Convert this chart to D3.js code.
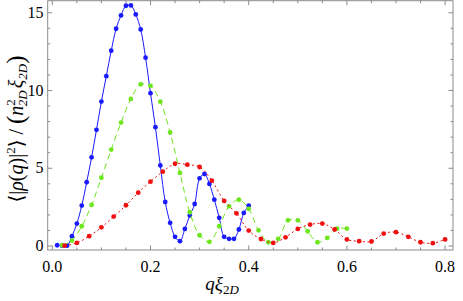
<!DOCTYPE html>
<html>
<head>
<meta charset="utf-8">
<script src="https://cdn.jsdelivr.net/npm/d3@7"></script>
<style>
  body { margin: 0; background: #fff; }
  text, tspan { font-family: 'Liberation Serif', 'Times New Roman', Times, 'DejaVu Serif', serif; }
</style>
</head>
<body>
<div id="chart"></div>
<script>
// data
const blueQ = [0.01, 0.02, 0.03, 0.04, 0.05, 0.06, 0.07, 0.08, 0.09, 0.10,
    0.11, 0.12, 0.13, 0.14, 0.15, 0.16, 0.17, 0.18, 0.19, 0.20,
    0.21, 0.22, 0.23, 0.24, 0.25, 0.26, 0.27, 0.28, 0.29, 0.30,
    0.31, 0.32, 0.33, 0.34, 0.35, 0.36, 0.37, 0.38, 0.39, 0.40];
const blueV = [0.05, 0.02, 0.02, 0.63, 1.44, 2.6, 4.1, 5.7, 7.47, 9.29,
    10.92, 12.56, 13.97, 14.83, 15.45, 15.47, 14.89, 13.93, 12.11, 9.83,
    7.64, 5.18, 2.83, 1.49, 0.59, 0.31, 1.10, 1.96, 2.7, 4.35,
    4.63, 3.99, 2.98, 1.81, 0.59, 0.46, 0.46, 1.06, 2.13, 2.6];

const greenQ = [0.02, 0.04, 0.06, 0.08, 0.10, 0.12, 0.14, 0.16, 0.18, 0.20,
    0.22, 0.24, 0.26, 0.28, 0.30, 0.32, 0.34, 0.36, 0.38, 0.40,
    0.42, 0.44, 0.46, 0.48, 0.50, 0.52, 0.54, 0.56, 0.58, 0.60];
const greenV = [0.05, 0.35, 1.27, 2.64, 4.39, 6.2, 7.94, 9.46, 10.4, 10.3,
    9.28, 7.3, 4.7, 2.17, 0.69, 0.27, 1.27, 2.55, 2.98, 2.39,
    1.01, 0.24, 0.46, 1.65, 1.65, 0.95, 0.24, 0.52, 1.12, 1.12];

const redQ = [0.025, 0.05, 0.075, 0.1, 0.125, 0.15, 0.175, 0.2,
    0.225, 0.25, 0.275, 0.3, 0.325, 0.35, 0.375, 0.4,
    0.425, 0.45, 0.475, 0.5, 0.525, 0.55, 0.575, 0.6,
    0.625, 0.65, 0.675, 0.7, 0.725, 0.75, 0.775, 0.8];
const redV = [0.02, 0.2, 0.63, 1.2, 1.89, 2.62, 3.43, 4.14,
    4.78, 5.29, 5.23, 5.08, 4.2, 2.9, 2.1, 0.99,
    0.45, 0.2, 0.56, 1.1, 1.38, 1.44, 1.06, 0.42,
    0.31, 0.29, 0.8, 0.89, 0.59, 0.24, 0.18, 0.42];

const xMajor = [0, 0.2, 0.4, 0.6, 0.8];
const xMinor = [0.05, 0.1, 0.15, 0.25, 0.3, 0.35, 0.45, 0.5, 0.55, 0.65, 0.7, 0.75];
const yMajor = [0, 5, 10, 15];
const yMinor = [1, 2, 3, 4, 6, 7, 8, 9, 11, 12, 13, 14];

const config = {
    width: 463,
    height: 301,
    left: 47.7,
    right: 453,
    top: 0.7,
    bottom: 250,
    frameColor: '#8a8a8a',
    pointRadius: 2.4
};

const seriesSpecs = [
    { q: blueQ, v: blueV, color: '#1a1aff', dash: null },
    { q: greenQ, v: greenV, color: '#6ee61e', dash: '6,4' },
    { q: redQ, v: redV, color: '#f01010', dash: '2,2.6' }
];

const makeChart = () => {
    const svg = d3.select('#chart').append('svg')
        .attr('width', config.width)
        .attr('height', config.height);

    const x = d3.scaleLinear()
        .domain([-0.00937, 0.8161])
        .range([config.left, config.right]);
    const y = d3.scaleLinear()
        .domain([-0.257, 15.775])
        .range([config.bottom, config.top]);

    // series
    const line = d3.line()
        .x(d => x(d[0]))
        .y(d => y(d[1]))
        .curve(d3.curveCatmullRom.alpha(0.5));

    seriesSpecs.forEach(spec => {
        const pts = spec.q.map((q, i) => [q, spec.v[i]]);
        svg.append('path')
            .datum(pts)
            .attr('d', line)
            .attr('fill', 'none')
            .attr('stroke', spec.color)
            .attr('stroke-width', 1)
            .attr('stroke-dasharray', spec.dash);
        svg.selectAll(null)
            .data(pts)
            .enter().append('circle')
                .attr('cx', d => x(d[0]))
                .attr('cy', d => y(d[1]))
                .attr('r', config.pointRadius)
                .attr('fill', spec.color);
    });

    // frame with ticks on all four sides
    const frame = svg.append('g');
    frame.append('rect')
        .attr('x', config.left)
        .attr('y', config.top)
        .attr('width', config.right - config.left)
        .attr('height', config.bottom - config.top)
        .attr('fill', 'none')
        .attr('stroke', config.frameColor)
        .attr('stroke-width', 1);

    const addTicks = (vals, len) => {
        vals.forEach(q => {
            const px = x(q);
            frame.append('line').attr('x1', px).attr('x2', px)
                .attr('y1', config.bottom).attr('y2', config.bottom - len)
                .attr('stroke', config.frameColor);
            frame.append('line').attr('x1', px).attr('x2', px)
                .attr('y1', config.top).attr('y2', config.top + len)
                .attr('stroke', config.frameColor);
        });
    };
    const addYTicks = (vals, len) => {
        vals.forEach(v => {
            const py = y(v);
            frame.append('line').attr('y1', py).attr('y2', py)
                .attr('x1', config.left).attr('x2', config.left + len)
                .attr('stroke', config.frameColor);
            frame.append('line').attr('y1', py).attr('y2', py)
                .attr('x1', config.right).attr('x2', config.right - len)
                .attr('stroke', config.frameColor);
        });
    };
    addTicks(xMajor, 4.5);
    addTicks(xMinor, 2.5);
    addYTicks(yMajor, 4.5);
    addYTicks(yMinor, 2.5);

    // tick labels
    svg.selectAll('.xlab')
        .data(xMajor)
        .enter().append('text')
            .attr('x', d => x(d))
            .attr('y', 272)
            .attr('text-anchor', 'middle')
            .attr('font-size', 16)
            .text(d => d3.format('.1f')(d));
    svg.selectAll('.ylab')
        .data(yMajor)
        .enter().append('text')
            .attr('x', 43.5)
            .attr('y', d => y(d) + 5)
            .attr('text-anchor', 'end')
            .attr('font-size', 16)
            .text(d => d);

    // x axis title
    const xt = svg.append('text')
        .attr('x', 222)
        .attr('y', 290)
        .attr('text-anchor', 'middle')
        .attr('font-size', 19)
        .attr('font-style', 'italic');
    xt.append('tspan').text('qξ');
    xt.append('tspan').attr('font-size', 13).attr('font-style', 'normal').attr('dy', 4).text('2');
    xt.append('tspan').attr('font-size', 13).text('D');

    // y axis title
    const yt = svg.append('text')
        .attr('transform', 'translate(23,129) rotate(-90)')
        .attr('text-anchor', 'middle')
        .attr('font-size', 20);
    yt.append('tspan').text('⟨|');
    yt.append('tspan').attr('font-style', 'italic').text('ρ');
    yt.append('tspan').text('(');
    yt.append('tspan').attr('font-style', 'italic').text('q');
    yt.append('tspan').text(')|');
    yt.append('tspan').attr('font-size', 13).attr('dy', -8).text('2');
    yt.append('tspan').attr('dy', 8).text('⟩ / ');
    yt.append('tspan').attr('font-size', 25).attr('dy', 1).text('(');
    yt.append('tspan').attr('font-style', 'italic').attr('dy', -1).text('n');
    yt.append('tspan').attr('font-size', 13).attr('dy', -8).text('2');
    yt.append('tspan').attr('font-size', 13).attr('font-style', 'italic')
        .attr('dx', -7).attr('dy', 12).text('2D');
    yt.append('tspan').attr('font-style', 'italic').attr('dx', 2).attr('dy', -4).text('ξ');
    yt.append('tspan').attr('font-size', 13).attr('font-style', 'italic')
        .attr('dy', 4).text('2D');
    yt.append('tspan').attr('font-size', 25).attr('dy', -3).text(')');
};

makeChart();
</script>
</body>
</html>
